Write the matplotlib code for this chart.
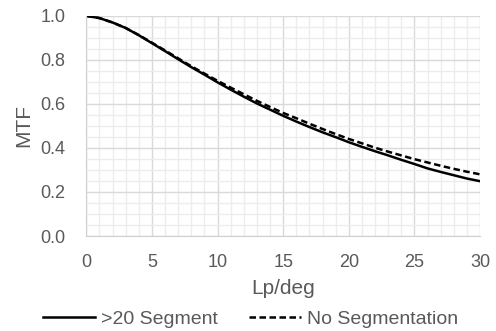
import matplotlib
matplotlib.use("Agg")
import matplotlib.pyplot as plt
from matplotlib.ticker import MultipleLocator

plt.rcParams['font.family'] = ['Liberation Sans', 'DejaVu Sans']

# spatial frequency (Lp/deg) and MTF values
lp = list(range(0, 31))
mtf_seg20 = [1.0, 0.99, 0.97, 0.945, 0.912, 0.876, 0.84, 0.803, 0.767, 0.733,
             0.698, 0.665, 0.633, 0.602, 0.574, 0.546, 0.52, 0.495, 0.471, 0.449,
             0.426, 0.405, 0.385, 0.366, 0.346, 0.327, 0.307, 0.291, 0.276, 0.261, 0.249]
mtf_noseg = [1.0, 0.99, 0.97, 0.945, 0.913, 0.878, 0.843, 0.807, 0.771, 0.738,
             0.705, 0.674, 0.644, 0.614, 0.586, 0.559, 0.535, 0.51, 0.486, 0.463,
             0.441, 0.421, 0.401, 0.383, 0.366, 0.349, 0.334, 0.319, 0.305, 0.292, 0.28]

fig = plt.figure(figsize=(4.96, 3.31), dpi=100)
ax = fig.add_axes([0.174, 0.287, 0.794, 0.665])

ax.plot(lp, mtf_seg20, color='black', lw=1.8, label='>20 Segment')
ax.plot(lp, mtf_noseg, color='black', lw=1.8, ls=(0, (2.6, 1.4)), label='No Segmentation')

ax.set_xlim(0, 30)
ax.set_ylim(0, 1.0)
ax.xaxis.set_major_locator(MultipleLocator(5))
ax.xaxis.set_minor_locator(MultipleLocator(1))
ax.yaxis.set_major_locator(MultipleLocator(0.2))
ax.yaxis.set_minor_locator(MultipleLocator(0.05))
ax.yaxis.set_major_formatter(plt.FuncFormatter(lambda v, p: f"{v:.1f}"))

ax.grid(which='major', color='#d9d9d9', lw=1.0)
ax.grid(which='minor', color='#ececec', lw=1.0)
ax.set_axisbelow(True)
for s in ['top', 'right']:
    ax.spines[s].set_visible(False)
for s in ['left', 'bottom']:
    ax.spines[s].set_color('#d0d0d0')
ax.tick_params(which='both', length=0, labelsize=13, colors='#595959')
ax.tick_params(axis='x', pad=13)
ax.tick_params(axis='y', pad=15)

ax.set_xlabel('Lp/deg', fontsize=15, color='#595959', labelpad=6)
ax.set_ylabel('MTF', fontsize=15, color='#595959', labelpad=5)

fig.legend(loc='center', bbox_to_anchor=(0.505, 0.036), ncol=2, frameon=False,
           fontsize=14, labelcolor='#595959', handlelength=2.7, columnspacing=1.6,
           handletextpad=0.3)

fig.savefig('out.png', dpi=100)
